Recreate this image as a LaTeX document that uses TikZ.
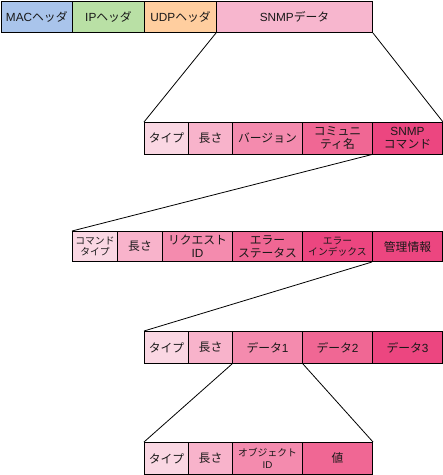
\documentclass[tikz,border=0pt]{standalone}
\usepackage{fontspec}
\setmainfont{Noto Sans CJK JP}
\newfontfamily\lat{Liberation Sans}
\definecolor{macblue}{HTML}{A9C4EB}
\definecolor{ipgreen}{HTML}{B9E0A5}
\definecolor{udporange}{HTML}{FFCE9F}
\definecolor{snmppink}{HTML}{F7B6CE}
\definecolor{pa}{HTML}{FAD7E3}
\definecolor{pb}{HTML}{F8B3CB}
\definecolor{pc}{HTML}{F48BAE}
\definecolor{pd}{HTML}{F06794}
\definecolor{pe}{HTML}{EC4680}
\begin{document}
\begin{tikzpicture}[x=1pt,y=-1pt,
  box/.style={draw=black, line width=1pt, anchor=north west, inner sep=0pt, align=center,
    text=black!90, font=\fontsize{11.8}{13}\selectfont},
  small/.style={font=\fontsize{9.8}{11.5}\selectfont},
  conn/.style={draw=black, line width=0.8pt}]
\useasboundingbox (0,0) rectangle (443,475);
% row 1
\node[box, fill=macblue, minimum width=71.5pt, minimum height=31.5pt] (mac) at (0.5,0.5) {{\lat MAC}ヘッダ};
\node[box, fill=ipgreen, minimum width=72pt, minimum height=31.5pt] (ip) at (72,0.5) {{\lat IP}ヘッダ};
\node[box, fill=udporange, minimum width=72pt, minimum height=31.5pt] (udp) at (144,0.5) {{\lat UDP}ヘッダ};
\node[box, fill=snmppink, minimum width=156pt, minimum height=31.5pt] (snmp) at (216,0.5) {{\lat SNMP}データ};
% row 2
\node[box, fill=pa, minimum width=44pt, minimum height=31.5pt] (r2a) at (144,122) {タイプ};
\node[box, fill=pb, minimum width=44pt, minimum height=31.5pt] (r2b) at (188,122) {長さ};
\node[box, fill=pc, minimum width=70pt, minimum height=31.5pt] (r2c) at (232,122) {バージョン};
\node[box, fill=pd, minimum width=70pt, minimum height=31.5pt] (r2d) at (302,122) {コミュニ\\ティ名};
\node[box, fill=pe, minimum width=70pt, minimum height=31.5pt] (r2e) at (372,122) {{\lat SNMP}\\コマンド};
% row 3
\node[box, small, fill=pa, minimum width=45pt, minimum height=30pt] (r3a) at (72,231) {コマンド\\タイプ};
\node[box, fill=pb, minimum width=45pt, minimum height=30pt] (r3b) at (117,231) {長さ};
\node[box, fill=pc, minimum width=70pt, minimum height=30pt] (r3c) at (162,231) {リクエスト\\{\lat ID}};
\node[box, fill=pd, minimum width=70pt, minimum height=30pt] (r3d) at (232,231) {エラー\\ステータス};
\node[box, small, fill=pe, minimum width=70pt, minimum height=30pt] (r3e) at (302,231) {エラー\\インデックス};
\node[box, fill=pe, minimum width=70pt, minimum height=30pt] (r3f) at (372,231) {管理情報};
% row 4
\node[box, fill=pa, minimum width=44pt, minimum height=32pt] (r4a) at (144,331) {タイプ};
\node[box, fill=pb, minimum width=44pt, minimum height=32pt] (r4b) at (188,331) {長さ};
\node[box, fill=pc, minimum width=70pt, minimum height=32pt] (r4c) at (232,331) {データ{\lat 1}};
\node[box, fill=pd, minimum width=70pt, minimum height=32pt] (r4d) at (302,331) {データ{\lat 2}};
\node[box, fill=pe, minimum width=70pt, minimum height=32pt] (r4e) at (372,331) {データ{\lat 3}};
% row 5
\node[box, fill=pa, minimum width=44pt, minimum height=32pt] (r5a) at (144,442) {タイプ};
\node[box, fill=pb, minimum width=44pt, minimum height=32pt] (r5b) at (188,442) {長さ};
\node[box, small, fill=pc, minimum width=70pt, minimum height=32pt] (r5c) at (232,442) {オブジェクト\\{\lat ID}};
\node[box, fill=pd, minimum width=70pt, minimum height=32pt] (r5d) at (302,442) {値};
% connectors
\draw[conn] (snmp.south west) -- (r2a.north west);
\draw[conn] (snmp.south east) -- (r2e.north east);
\draw[conn] (r2e.south west) -- (r3a.north west);
\draw[conn] (r2e.south east) -- (r3f.north east);
\draw[conn] (r3f.south west) -- (r4a.north west);
\draw[conn] (r3f.south east) -- (r4e.north east);
\draw[conn] (r4c.south west) -- (r5a.north west);
\draw[conn] (r4c.south east) -- (r5d.north east);
\end{tikzpicture}
\end{document}
